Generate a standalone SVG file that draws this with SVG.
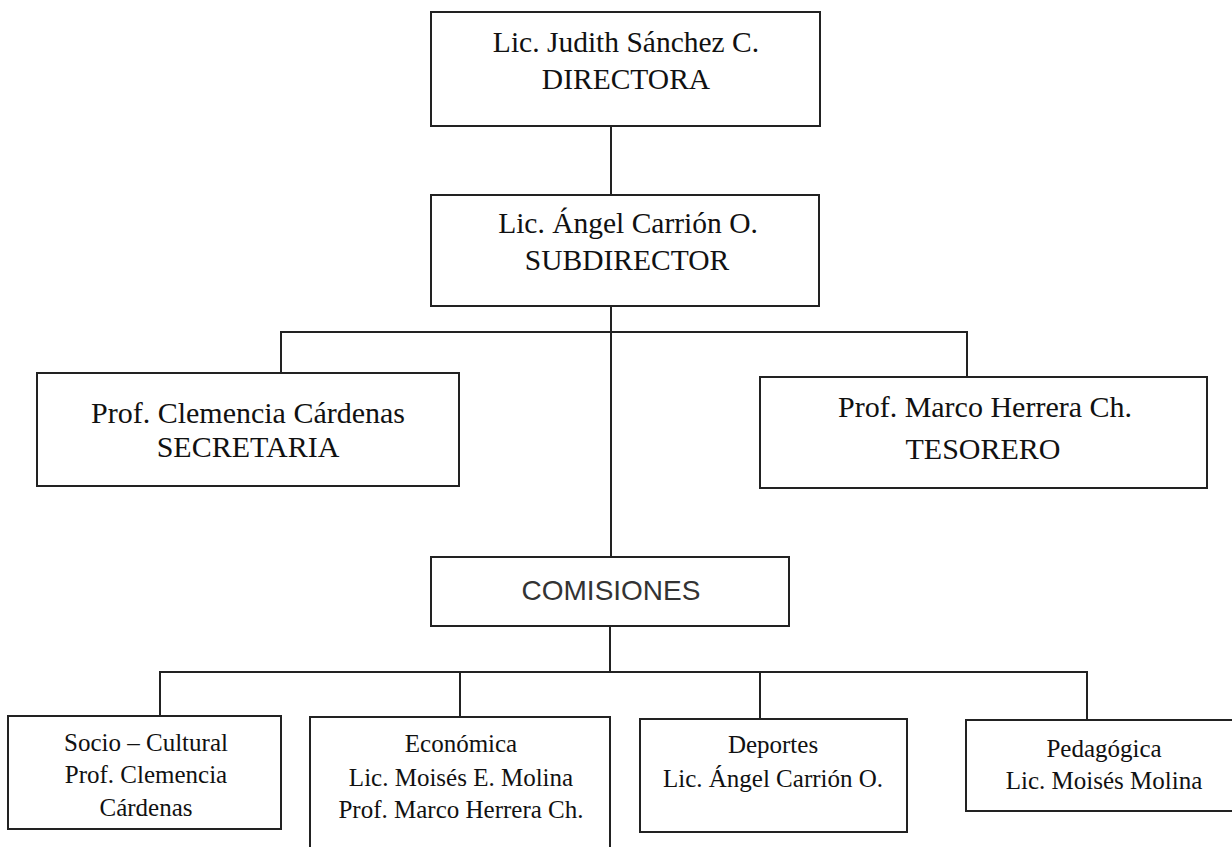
<svg xmlns="http://www.w3.org/2000/svg" width="1232" height="847" viewBox="0 0 1232 847">
<style>
.box{fill:#fff;stroke:#222;stroke-width:2}
.ln{stroke:#222;stroke-width:2;fill:none}
.t{font-family:"Liberation Serif","Times New Roman",serif;fill:#111;text-anchor:middle}
.big{font-size:29.5px}
.sm{font-size:25px}
.sans{font-family:"Liberation Sans",Arial,sans-serif;font-size:28px;fill:#333;text-anchor:middle}
</style>
<rect width="1232" height="847" fill="#fff"/>
<g id="connectors">
<path class="ln" d="M611 126V195"/>
<path class="ln" d="M611 306V557"/>
<path class="ln" d="M281 373V332H967V377"/>
<path class="ln" d="M610 626V672"/>
<path class="ln" d="M160 716V672H1087V720"/>
<path class="ln" d="M460 672V717"/>
<path class="ln" d="M760 672V719"/>
</g>
<g id="directora">
<rect class="box" x="431" y="12" width="389" height="114"/>
<text class="t big" x="626" y="52">Lic. Judith Sánchez  C.</text>
<text class="t big" x="626" y="89">DIRECTORA</text>
</g>
<g id="subdirector">
<rect class="box" x="431" y="195" width="388" height="111"/>
<text class="t big" x="628" y="233">Lic. Ángel Carrión O.</text>
<text class="t big" x="627" y="270">SUBDIRECTOR</text>
</g>
<g id="secretaria">
<rect class="box" x="37" y="373" width="422" height="113"/>
<text class="t" style="font-size:30px" x="248" y="423">Prof. Clemencia Cárdenas</text>
<text class="t" style="font-size:30px" x="248" y="457">SECRETARIA</text>
</g>
<g id="tesorero">
<rect class="box" x="760" y="377" width="447" height="111"/>
<text class="t" style="font-size:30px" x="985" y="417">Prof. Marco Herrera Ch.</text>
<text class="t" style="font-size:30px" x="983" y="459">TESORERO</text>
</g>
<g id="comisiones">
<rect class="box" x="431" y="557" width="358" height="69"/>
<text class="sans" x="611" y="600">COMISIONES</text>
</g>
<g id="sociocultural">
<rect class="box" x="8" y="716" width="273" height="113"/>
<text class="t sm" x="146" y="751">Socio – Cultural</text>
<text class="t sm" x="146" y="783">Prof. Clemencia</text>
<text class="t sm" x="146" y="816">Cárdenas</text>
</g>
<g id="economica">
<rect class="box" x="310" y="717" width="300" height="150"/>
<text class="t sm" x="461" y="752">Económica</text>
<text class="t sm" x="461" y="786">Lic. Moisés E. Molina</text>
<text class="t sm" x="461" y="818">Prof. Marco Herrera Ch.</text>
</g>
<g id="deportes">
<rect class="box" x="640" y="719" width="267" height="113"/>
<text class="t sm" x="773" y="753">Deportes</text>
<text class="t sm" x="773" y="787">Lic. Ángel Carrión O.</text>
</g>
<g id="pedagogica">
<rect class="box" x="966" y="720" width="276" height="91"/>
<text class="t sm" x="1104" y="757">Pedagógica</text>
<text class="t sm" x="1104" y="789">Lic. Moisés Molina</text>
</g>
</svg>
